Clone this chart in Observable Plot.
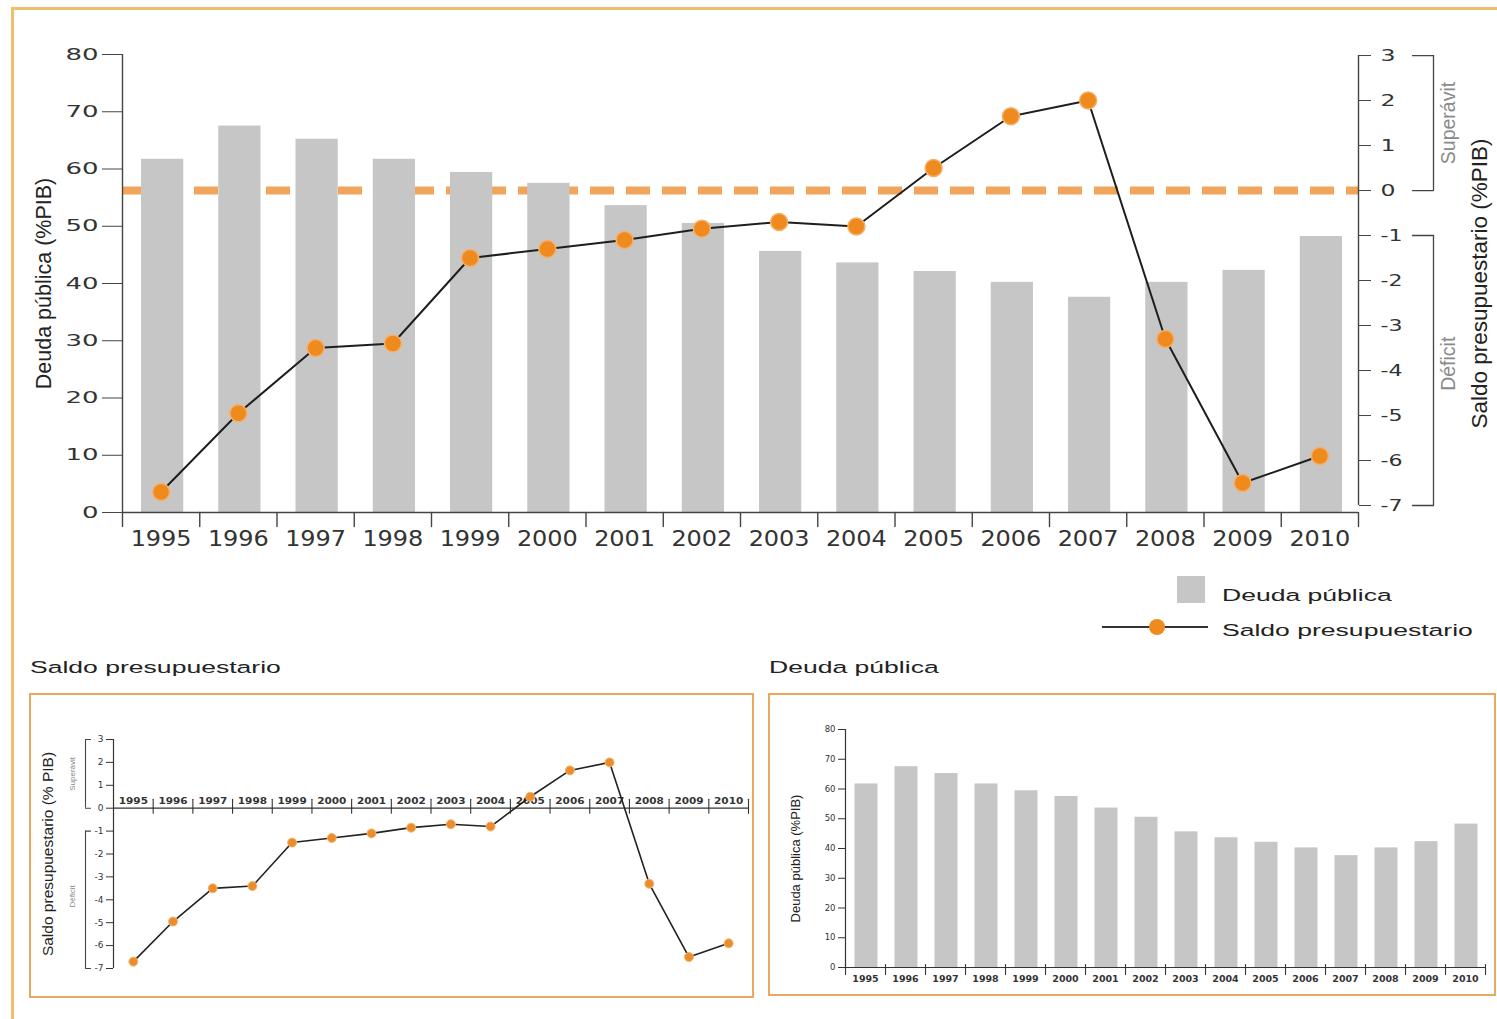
<!DOCTYPE html>
<html>
<head>
<meta charset="utf-8">
<script src="https://cdn.jsdelivr.net/npm/d3@7"></script>
<script src="https://cdn.jsdelivr.net/npm/@observablehq/plot@0.6"></script>
<style>
  body { margin: 0; background: #fff; }
  #page { position: relative; width: 1497px; height: 1019px; overflow: hidden; background: #fff;
          font-family: "Liberation Sans", Arial, sans-serif; color: #222; }
  .frame { position: absolute; left: 11px; top: 7px; width: 1500px; height: 1030px;
           border-top: 3px solid #efbd6c; border-left: 3px solid #efbd6c; }
  .box { position: absolute; border: 2px solid #eaa85c; box-sizing: border-box; }
  .lbl { position: absolute; white-space: nowrap; font-size: 16.3px; line-height: 20px;
         transform-origin: 0 50%; transform: scaleX(1.63); color: #222; }
  .abs { position: absolute; }
  svg { position: absolute; overflow: visible; }
</style>
</head>
<body>
<div id="page">
  <div class="frame"></div>
  <div class="box" style="left:29px;top:693px;width:725px;height:305px;"></div>
  <div class="box" style="left:768px;top:693px;width:728px;height:303px;"></div>
  <div class="lbl" style="left:30px;top:657px;">Saldo presupuestario</div>
  <div class="lbl" style="left:769px;top:657px;">Deuda pública</div>
  <!-- legend -->
  <div class="abs" style="left:1177px;top:576px;width:28px;height:27px;background:#c6c6c6;"></div>
  <div class="lbl" style="left:1222px;top:585px;">Deuda pública</div>
  <div class="abs" style="left:1102px;top:626px;width:106px;height:2px;background:#333;"></div>
  <div class="abs" style="left:1149px;top:619px;width:16px;height:16px;border-radius:50%;background:#ef8a1f;"></div>
  <div class="lbl" style="left:1222px;top:620px;">Saldo presupuestario</div>
</div>
<script>
// ---------------- data ----------------
const years   = [1995,1996,1997,1998,1999,2000,2001,2002,2003,2004,2005,2006,2007,2008,2009,2010];
const debt    = [61.7,67.5,65.2,61.7,59.4,57.5,53.6,50.5,45.6,43.6,42.1,40.2,37.6,40.2,42.3,48.2];
const balance = [-6.7,-4.95,-3.5,-3.4,-1.5,-1.3,-1.1,-0.85,-0.7,-0.8,0.5,1.65,2.0,-3.3,-6.5,-5.9];
const debtTicks    = [0,10,20,30,40,50,60,70,80];
const balanceTicks = [3,2,1,0,-1,-2,-3,-4,-5,-6,-7];
const groupLabels  = ["Superávit","Déficit"];
const groupFrom    = [3,-1];
const groupTo      = [0,-7];
const groupLabelAt = [1.5,-3.85];
const debtLabel    = "Deuda pública (%PIB)";
const balLabel     = "Saldo presupuestario (%PIB)";
const balLabelSmall = "Saldo presupuestario (% PIB)";

// ---------------- derived ----------------
const rows = years.map((year, i) => ({year, debt: debt[i], balance: balance[i]}));
const groups = groupLabels.map((label, i) => ({label, from: groupFrom[i], to: groupTo[i], at: groupLabelAt[i]}));
const groupEnds = groups.flatMap(g => [g.from, g.to]);
const x0 = years[0] - 0.5, x1 = years[years.length - 1] + 0.5;
const bounds = d3.range(years.length + 1).map(i => x0 + i);
// secondary axis (balance) mapped onto the debt scale
const toV = b => 56.24 + 7.86 * b;
const fromV = v => (v - 56.24) / 7.86;
const lineShape = {draw(ctx, l) { ctx.moveTo(0, 0); ctx.lineTo(0, -l); }};
const fmt = b => String(b);

function fit(svg, label, idx, perChar, minus) {
  const gs = svg.querySelectorAll(`g[aria-label="${label}"]`);
  const g = gs[idx]; if (!g) return;
  g.querySelectorAll("text").forEach(t => {
    const s = t.textContent;
    let w = 0; for (const c of s) w += (c === "-" || c === "−") ? minus : perChar;
    t.setAttribute("textLength", w);
    t.setAttribute("lengthAdjust", "spacingAndGlyphs");
  });
}

const page = document.getElementById("page");

// ---------------- main chart ----------------
const main = Plot.plot({
  width: 1497, height: 560,
  marginTop: 54, marginBottom: 48, marginLeft: 122, marginRight: 139,
  x: {domain: [x0, x1]},
  y: {domain: [0, 80]},
  style: {fontFamily: "DejaVu Sans", background: "transparent", color: "#333", overflow: "visible"},
  marks: [
    Plot.ruleY([toV(0)], {stroke: "#f1a55b", strokeWidth: 8, strokeDasharray: "24 12"}),
    Plot.rectY(rows, {x1: d => d.year - 0.5, x2: d => d.year + 0.5, y1: 0, y2: "debt",
                      fill: "#c6c6c6", insetLeft: 19, insetRight: 16}),
    Plot.ruleY([0], {stroke: "#444", strokeWidth: 1.4}),
    Plot.ruleX([x0], {y1: 0, y2: 80, stroke: "#444", strokeWidth: 1.4}),
    Plot.ruleX([x1], {y1: toV(-7), y2: toV(3), stroke: "#444", strokeWidth: 1.4}),
    Plot.axisY({ticks: debtTicks, tickSize: 20, tickPadding: 4, fontSize: 16, label: null, stroke: "#444"}),
    Plot.axisY({anchor: "right", ticks: balanceTicks.map(toV), tickFormat: v => fmt(Math.round(fromV(v))),
                tickSize: 12, tickPadding: 10, fontSize: 16, label: null, stroke: "#444"}),
    Plot.axisX({ticks: years, tickSize: 0, tickPadding: 19, tickFormat: d => String(d), fontSize: 21, label: null}),
    Plot.vector(bounds, {x: d => d, y: 0, length: 14, rotate: 180, anchor: "start",
                         shape: lineShape, stroke: "#444", strokeWidth: 1.4}),
    // brackets
    Plot.ruleX(groups, {x: x1, y1: d => toV(d.from), y2: d => toV(d.to), dx: 75, stroke: "#444", strokeWidth: 1.3}),
    Plot.vector(groupEnds, {x: x1, y: d => toV(d), length: 21, rotate: 90, anchor: "start", dx: 54,
                            shape: lineShape, stroke: "#444", strokeWidth: 1.3}),
    Plot.text(groups, {x: x1, y: d => toV(d.at), text: "label", rotate: -90, dx: 90,
                       fontSize: 19.5, fill: "#8a8a8a", fontFamily: "Liberation Sans"}),
    // series
    Plot.line(rows, {x: "year", y: d => toV(d.balance), stroke: "#1e1e1e", strokeWidth: 2}),
    Plot.dot(rows, {x: "year", y: d => toV(d.balance), r: 8.5, fill: "#ef8a1f", stroke: "#f5b06a", strokeWidth: 1.5}),
    // axis titles
    Plot.text([debtLabel], {frameAnchor: "left", textAnchor: "middle", rotate: -90, dx: -78, fontSize: 21.5,
                            fontFamily: "Liberation Sans", fill: "#222"}),
    Plot.text([balLabel], {frameAnchor: "right", textAnchor: "middle", rotate: -90, dx: 121, fontSize: 22.5,
                           fontFamily: "Liberation Sans", fill: "#222"})
  ]
});
main.style.left = "0px"; main.style.top = "0px";
page.appendChild(main);
fit(main, "y-axis tick label", 0, 16.5, 7);
fit(main, "y-axis tick label", 1, 15, 7);
fit(main, "x-axis tick label", 0, 15.25, 7);

// ---------------- small chart: saldo ----------------
const sm1 = Plot.plot({
  width: 724, height: 304,
  marginLeft: 84, marginRight: 5, marginTop: 46, marginBottom: 29,
  x: {domain: [x0, x1], axis: null},
  y: {domain: [-7, 3]},
  style: {fontFamily: "DejaVu Sans", background: "transparent", color: "#333", overflow: "visible"},
  marks: [
    Plot.ruleY([0], {stroke: "#333", strokeWidth: 1.2}),
    Plot.ruleX([x0], {y1: -7, y2: 3, stroke: "#333", strokeWidth: 1.2}),
    Plot.axisY({ticks: balanceTicks, tickFormat: fmt, tickSize: 7, tickPadding: 3, fontSize: 9, label: null}),
    Plot.vector(bounds.slice(1), {x: d => d, y: 0, length: 14, rotate: 0, anchor: "start", dy: 5,
                                  shape: lineShape, stroke: "#333", strokeWidth: 1.1}),
    Plot.text(years, {x: d => d, y: 0, text: d => String(d), dy: -7, fontSize: 9, fontWeight: "bold", fill: "#333"}),
    Plot.ruleX(groups, {x: x0, y1: "from", y2: "to", dx: -28, stroke: "#444", strokeWidth: 1.1}),
    Plot.vector(groupEnds, {x: x0, y: d => d, length: 5, rotate: 90, anchor: "start", dx: -28,
                            shape: lineShape, stroke: "#444", strokeWidth: 1.1}),
    Plot.text(groups, {x: x0, y: "at", text: "label", rotate: -90, dx: -41, fontSize: 8, fill: "#888",
                       fontFamily: "Liberation Sans"}),
    Plot.text([balLabelSmall], {frameAnchor: "left", textAnchor: "middle", rotate: -90, dx: -65, fontSize: 15.5,
                                fontFamily: "Liberation Sans", fill: "#222"}),
    Plot.line(rows, {x: "year", y: "balance", stroke: "#222", strokeWidth: 1.6}),
    Plot.dot(rows, {x: "year", y: "balance", r: 4.5, fill: "#ec8d2c", stroke: "#f3b775", strokeWidth: 1})
  ]
});
sm1.style.left = "29px"; sm1.style.top = "693px";
page.appendChild(sm1);
fit(sm1, "text", 0, 7.3, 3);

// ---------------- small chart: deuda ----------------
const sm2 = Plot.plot({
  width: 727, height: 302,
  marginLeft: 77, marginRight: 10, marginTop: 36, marginBottom: 28,
  x: {domain: [x0, x1]},
  y: {domain: [0, 80]},
  style: {fontFamily: "DejaVu Sans", background: "transparent", color: "#333", overflow: "visible"},
  marks: [
    Plot.rectY(rows, {x1: d => d.year - 0.5, x2: d => d.year + 0.5, y1: 0, y2: "debt",
                      fill: "#c6c6c6", insetLeft: 9.5, insetRight: 7.5}),
    Plot.ruleY([0], {stroke: "#333", strokeWidth: 1.2}),
    Plot.ruleX([x0], {y1: 0, y2: 80, stroke: "#333", strokeWidth: 1.2}),
    Plot.axisY({ticks: debtTicks, tickSize: 7, tickPadding: 3, fontSize: 8.5, label: null}),
    Plot.vector(bounds, {x: d => d, y: 0, length: 10, rotate: 180, anchor: "start", dy: -3,
                         shape: lineShape, stroke: "#333", strokeWidth: 1.1}),
    Plot.axisX({ticks: years, tickSize: 0, tickPadding: 8, tickFormat: d => String(d), fontSize: 9,
                fontWeight: "bold", label: null}),
    Plot.text([debtLabel], {frameAnchor: "left", textAnchor: "middle", rotate: -90, dx: -50, dy: 10, fontSize: 13,
                            fontFamily: "Liberation Sans", fill: "#222"})
  ]
});
sm2.style.left = "768px"; sm2.style.top = "693px";
page.appendChild(sm2);
fit(sm2, "x-axis tick label", 0, 6.6, 3);
</script>
</body>
</html>
